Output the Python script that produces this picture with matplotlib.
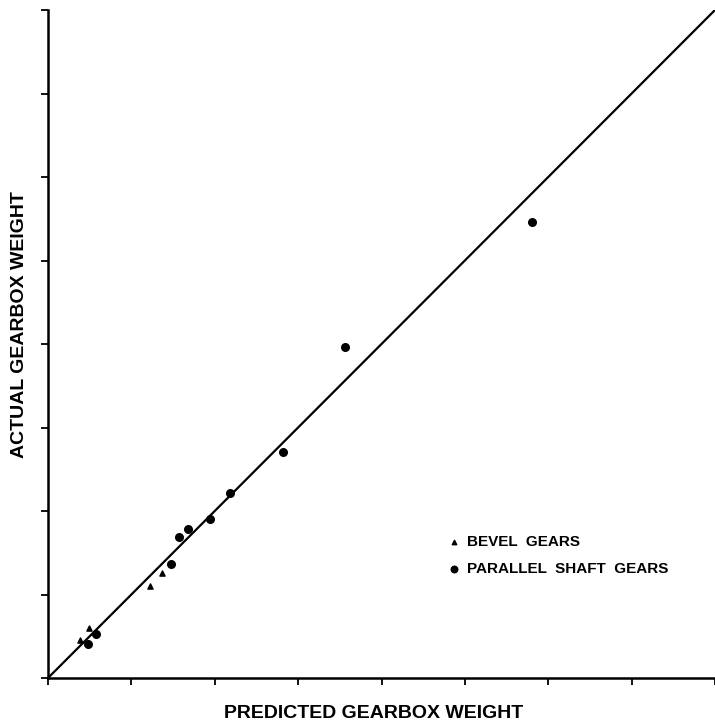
import matplotlib
matplotlib.use("Agg")
import matplotlib.pyplot as plt
import numpy as np

# predicted vs actual gearbox weight (axis units)
bevel_pred = [0.38, 0.49, 1.22, 1.37]
bevel_act = [0.46, 0.60, 1.10, 1.26]
shaft_pred = [0.48, 0.58, 1.48, 1.57, 1.68, 1.94, 2.18, 2.82, 3.56, 5.81]
shaft_act = [0.41, 0.53, 1.37, 1.69, 1.78, 1.90, 2.22, 2.71, 3.97, 5.46]
ticks = [0, 1, 2, 3, 4, 5, 6, 7, 8]
legend_labels = ["BEVEL  GEARS", "PARALLEL  SHAFT  GEARS"]

W, H = 715, 726
fig = plt.figure(figsize=(W / 100, H / 100), dpi=100)
ax = fig.add_axes([48 / W, 48 / H, 667 / W, 668 / H])

# perfect-fit line
ax.plot([0, 8], [0, 8], color="black", lw=1.6, zorder=2)

ax.scatter(bevel_pred, bevel_act, marker="^", s=14, color="black", zorder=3)
ax.scatter(shaft_pred, shaft_act, marker="o", s=30, color="black", zorder=3)

ax.set_xlim(0, 8)
ax.set_ylim(0, 8)
ax.set_xticks(ticks)
ax.set_yticks(ticks)
ax.set_xticklabels([])
ax.set_yticklabels([])
ax.tick_params(direction="out", length=5, width=1.3, color="black")
for s in ["top", "right"]:
    ax.spines[s].set_visible(False)
for s in ["left", "bottom"]:
    ax.spines[s].set_linewidth(1.8)

lab_font = ["Liberation Sans", "DejaVu Sans"]
fig.text(374 / W, 1 - 713 / H, "PREDICTED GEARBOX WEIGHT", fontsize=14,
         fontweight="bold", family=lab_font, ha="center", va="center")
fig.text(20 / W, 1 - 325 / H, "ACTUAL GEARBOX WEIGHT", fontsize=14,
         fontweight="bold", family=lab_font, ha="center", va="center",
         rotation=90)

# legend drawn by hand
ax.scatter([4.87], [1.63], marker="^", s=10, color="black", clip_on=False)
ax.scatter([4.87], [1.30], marker="o", s=22, color="black", clip_on=False)
ax.text(5.02, 1.63, legend_labels[0], fontsize=11, fontweight="bold",
        family=lab_font, va="center")
ax.text(5.02, 1.30, legend_labels[1], fontsize=11, fontweight="bold",
        family=lab_font, va="center")

fig.savefig("out.png", dpi=100)
